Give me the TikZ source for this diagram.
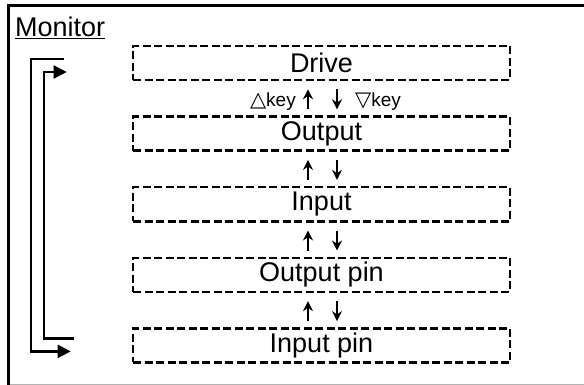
\documentclass[tikz,border=0pt]{standalone}
\usepackage{fontspec}
\setmainfont{Liberation Sans}
\newfontfamily\symfont{DejaVu Sans}
\usetikzlibrary{arrows.meta,positioning}

\begin{document}
\begin{tikzpicture}[x=1pt,y=-1pt,
    menubox/.style={draw, line width=2.6pt, dash pattern=on 8pt off 3.5pt, minimum width=377pt, minimum height=34pt, inner sep=0pt, font=\fontsize{27}{30}\selectfont},
    keyarrow/.style={line width=2.6pt, -{Stealth[length=10pt,width=10pt]}},
    looparrow/.style={line width=2.2pt, -{Triangle[length=13pt,width=13pt]}},
    keylabel/.style={inner sep=0pt, font=\fontsize{19}{21}\selectfont}]
        \useasboundingbox (0,0) rectangle (584,385);
        % frame
        \draw[black!30, line width=1pt] (8,384) -- (584,384);
        \draw[line width=3pt] (8.5,385) -- (8.5,6) -- (584,6);
        \node[anchor=base west, inner sep=0pt, font=\fontsize{27}{30}\selectfont] (monitor) at (15,37) {\underline{Monitor}};
        % menu items
        \node[menubox] (drive) at (321.5,63) {Drive};
        \node[menubox, below=34pt of drive] (output) {Output};
        \node[menubox, below=34pt of output] (input) {Input};
        \node[menubox, below=34pt of input] (outpin) {Output pin};
        \node[menubox, below=34pt of outpin] (inpin) {Input pin};
        % up/down keys
        \foreach \upper/\lower in {drive/output, output/input, input/outpin, outpin/inpin} {
            \draw[keyarrow] ([xshift=-13.5pt,yshift=6pt]\lower.north) -- ([xshift=-13.5pt,yshift=-8pt]\upper.south);
            \draw[keyarrow] ([xshift=15.5pt,yshift=-8pt]\upper.south) -- ([xshift=15.5pt,yshift=6pt]\lower.north);
        }
        \node[keylabel, anchor=base east] (upkey) at ([xshift=-25.5pt,yshift=-25pt]drive.south) {{\symfont\fontsize{21}{21}\selectfont △}key};
        \node[keylabel, anchor=base west] (downkey) at ([xshift=33.5pt,yshift=-25pt]drive.south) {{\symfont\fontsize{21}{21}\selectfont ▽}key};
        % wrap around
        \draw[looparrow] ([xshift=-68pt,yshift=4pt]drive.west) -- ++(-33,0) |- ([xshift=-61pt,yshift=-6pt]inpin.west);
        \draw[looparrow] ([xshift=-58pt,yshift=7pt]inpin.west) -- ++(-30,0) |- ([xshift=-65pt,yshift=-9pt]drive.west);
    \end{tikzpicture}
\end{document}
